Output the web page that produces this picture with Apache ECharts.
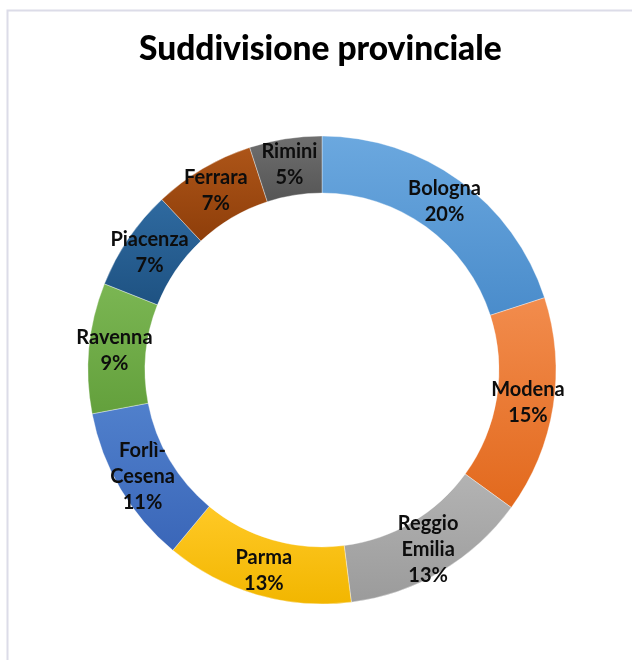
<!DOCTYPE html>
<html>
<head>
<meta charset="utf-8">
<style>
  html, body { margin: 0; padding: 0; background: #ffffff; }
  #chart { width: 632px; height: 660px; }
</style>
<script src="https://cdn.jsdelivr.net/npm/echarts@6/dist/echarts.min.js"></script>
</head>
<body>
<div id="chart"></div>
<script>
// Province shares (percent), clockwise from 12 o'clock
const provinces = ['Bologna', 'Modena', 'Reggio Emilia', 'Parma', 'Forlì-Cesena', 'Ravenna', 'Piacenza', 'Ferrara', 'Rimini'];
const shares = [20, 15, 13, 13, 11, 9, 7, 7, 5];
// Slice colours: [top, bottom] of each vertical gradient
const sliceTop = ['#6ba8df', '#f28c4d', '#b3b3b3', '#ffc926', '#5080cc', '#7bb653', '#2f6aa0', '#ad5518', '#6f6f6f'];
const sliceBottom = ['#4a8ccb', '#e2691d', '#9b9b9b', '#f2b600', '#3a66b8', '#63a03c', '#1e5282', '#8e3e0a', '#555555'];

const chart = echarts.init(document.getElementById('chart'));

const data = provinces.map((name, i) => ({
  name: name,
  value: shares[i],
  itemStyle: {
    color: new echarts.graphic.LinearGradient(0, 0, 0, 1, [
      { offset: 0, color: sliceTop[i] },
      { offset: 1, color: sliceBottom[i] }
    ])
  }
}));

chart.setOption({
  animation: false,
  title: {
    text: 'Suddivisione provinciale',
    left: 134,
    top: 27,
    textStyle: {
      fontFamily: 'Lato',
      fontWeight: 900,
      fontSize: 33.5,
      color: '#000000'
    }
  },
  graphic: [{
    type: 'rect',
    shape: { x: 7.5, y: 10.5, width: 640, height: 660 },
    style: { fill: 'none', stroke: '#dcdce8', lineWidth: 2 },
    silent: true
  }],
  series: [{
    type: 'pie',
    center: [322, 370],
    radius: [177, 234],
    startAngle: 90,
    clockwise: true,
    avoidLabelOverlap: false,
    itemStyle: { borderColor: 'rgba(255,255,255,0.6)', borderWidth: 0.6 },
    label: {
      show: true,
      position: 'inside',
      fontFamily: 'Lato',
      fontWeight: 'bold',
      fontSize: 20,
      lineHeight: 26,
      color: '#0d0d0d',
      formatter: p => p.name.replace(' ', '\n').replace('-', '-\n') + '\n' + p.value + '%'
    },
    labelLine: { show: false },
    emphasis: { disabled: true },
    data: data
  }]
});
</script>
</body>
</html>
